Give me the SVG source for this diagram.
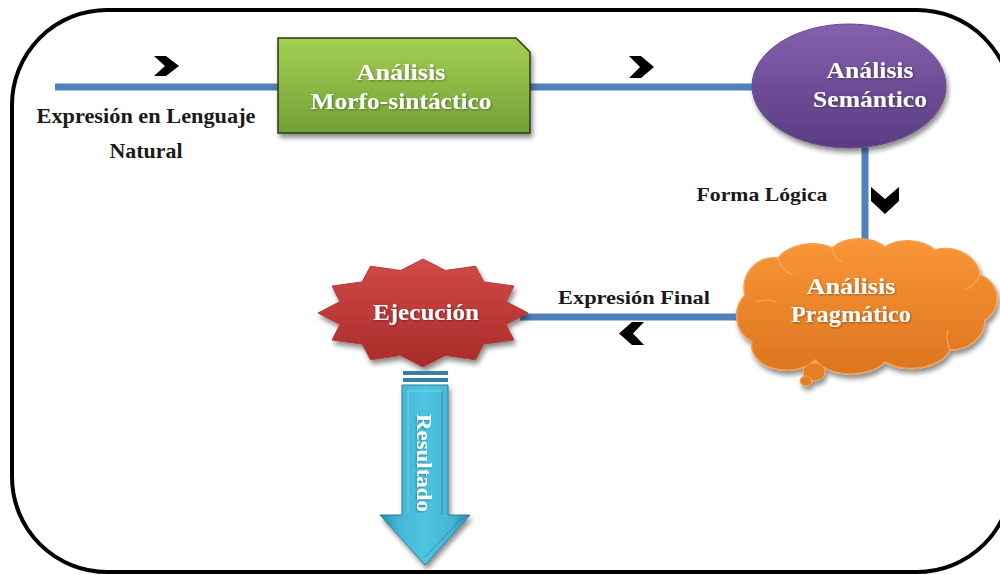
<svg xmlns="http://www.w3.org/2000/svg" width="1000" height="575" viewBox="0 0 1000 575">
  <style>
    .lbl { font-family: "Liberation Serif", "DejaVu Serif", serif; font-weight: bold; fill: #1a1a1a; text-anchor: middle; }
    .node-txt { font-family: "Liberation Serif", "DejaVu Serif", serif; font-weight: bold; fill: #ffffff; text-anchor: middle; }
    .link { stroke: #4f81bd; stroke-width: 7; fill: none; }
    .chev { fill: #000000; }
  </style>
  <defs>
    <filter id="shadow" x="-20%" y="-20%" width="140%" height="150%">
      <feDropShadow dx="2" dy="4" stdDeviation="2.5" flood-color="#000" flood-opacity="0.45"/>
    </filter>
    <filter id="txtShadow" x="-10%" y="-20%" width="120%" height="150%">
      <feDropShadow dx="1" dy="1" stdDeviation="0.8" flood-color="#000" flood-opacity="0.35"/>
    </filter>
    <linearGradient id="gGreen" x1="0" y1="0" x2="0" y2="1">
      <stop offset="0" stop-color="#a4cf52"/>
      <stop offset="1" stop-color="#73a036"/>
    </linearGradient>
    <linearGradient id="gPurple" x1="0" y1="0" x2="0" y2="1">
      <stop offset="0" stop-color="#8460ad"/>
      <stop offset="1" stop-color="#5a3c82"/>
    </linearGradient>
    <linearGradient id="gOrange" x1="0" y1="0" x2="0" y2="1">
      <stop offset="0" stop-color="#fa9636"/>
      <stop offset="1" stop-color="#dd7420"/>
    </linearGradient>
    <linearGradient id="gRed" x1="0" y1="0" x2="0" y2="1">
      <stop offset="0" stop-color="#d24a47"/>
      <stop offset="1" stop-color="#a82b29"/>
    </linearGradient>
    <linearGradient id="gTeal" x1="0" y1="0" x2="1" y2="0">
      <stop offset="0" stop-color="#2a8aa6"/>
      <stop offset="0.2" stop-color="#45b5d6"/>
      <stop offset="0.5" stop-color="#4fc4e2"/>
      <stop offset="0.8" stop-color="#45b5d6"/>
      <stop offset="1" stop-color="#2a8aa6"/>
    </linearGradient>
  </defs>

  <!-- outer frame -->
  <rect x="12" y="10" width="1000" height="562" rx="95" ry="95" fill="#ffffff" stroke="#000000" stroke-width="4"/>

  <!-- connectors -->
  <g id="connectors">
    <line class="link" x1="55" y1="87" x2="280" y2="87"/>
    <line class="link" x1="530" y1="87" x2="760" y2="87"/>
    <line class="link" x1="865" y1="140" x2="865" y2="252"/>
    <line class="link" x1="520" y1="317" x2="745" y2="317"/>
    <polygon class="chev" points="154,56 166,56 179,66 166,76 154,76 165,66"/>
    <polygon class="chev" points="629,56 641,56 654,67 641,78 629,78 640,67"/>
    <polygon class="chev" points="871,187 885,199 899,187 899,201 885,214 871,201"/>
    <polygon class="chev" points="644,322 632,322 619,333.5 632,345 644,345 633,333.5"/>
  </g>

  <!-- edge labels -->
  <g id="labels">
    <text class="lbl" x="146" y="123" font-size="20" textLength="219" lengthAdjust="spacingAndGlyphs">Expresión en Lenguaje</text>
    <text class="lbl" x="146" y="158" font-size="20" textLength="73" lengthAdjust="spacingAndGlyphs">Natural</text>
    <text class="lbl" x="762" y="201" font-size="19" textLength="131" lengthAdjust="spacingAndGlyphs">Forma Lógica</text>
    <text class="lbl" x="634" y="304" font-size="19" textLength="152" lengthAdjust="spacingAndGlyphs">Expresión Final</text>
  </g>

  <!-- Análisis Morfo-sintáctico -->
  <g id="morfo">
    <path d="M278,38 H516 L530,52 V133 H278 Z" fill="url(#gGreen)" stroke="#2c3a18" stroke-width="1.5" filter="url(#shadow)"/>
    <text class="node-txt" x="401" y="80" font-size="23" textLength="89" lengthAdjust="spacingAndGlyphs" filter="url(#txtShadow)">Análisis</text>
    <text class="node-txt" x="401" y="109" font-size="23" textLength="181" lengthAdjust="spacingAndGlyphs" filter="url(#txtShadow)">Morfo-sintáctico</text>
  </g>

  <!-- Análisis Semántico -->
  <g id="semantico">
    <ellipse cx="849" cy="86" rx="97" ry="62" fill="url(#gPurple)" stroke="#6a4a92" stroke-width="1" filter="url(#shadow)"/>
    <text class="node-txt" x="870" y="78" font-size="23" textLength="87" lengthAdjust="spacingAndGlyphs" filter="url(#txtShadow)">Análisis</text>
    <text class="node-txt" x="870" y="107" font-size="23" textLength="114" lengthAdjust="spacingAndGlyphs" filter="url(#txtShadow)">Semántico</text>
  </g>

  <!-- Análisis Pragmático -->
  <g id="pragmatico">
    <g filter="url(#shadow)">
      <path d="M752,342 A30,30 0 0 1 745,295 A30,30 0 0 1 778,258 A40,30 0 0 1 832,248 A35,25 0 0 1 885,247 A35,25 0 0 1 935,250 A35,30 0 0 1 980,275 A25,25 0 0 1 985,320 A35,30 0 0 1 950,350 A40,25 0 0 1 885,362 A40,25 0 0 1 815,360 A35,25 0 0 1 752,342 Z" fill="url(#gOrange)" stroke="#f2a052" stroke-width="1.5"/>
      <ellipse cx="814" cy="372" rx="11" ry="9" fill="#e57e26" stroke="#f2a052" stroke-width="1"/>
      <ellipse cx="806" cy="381" rx="6" ry="5" fill="#e57e26" stroke="#f2a052" stroke-width="1"/>
    </g>
    <g fill="none" stroke="#fbb06a" stroke-width="1.2" opacity="0.8">
      <path d="M756,302 Q766,298 776,302"/>
      <path d="M778,258 Q781,270 793,275"/>
      <path d="M832,248 Q834,258 842,262"/>
      <path d="M950,350 Q945,338 948,330"/>
      <path d="M980,275 Q975,285 965,290"/>
    </g>
    <text class="node-txt" x="851" y="294" font-size="23" textLength="89" lengthAdjust="spacingAndGlyphs" filter="url(#txtShadow)">Análisis</text>
    <text class="node-txt" x="851" y="322" font-size="23" textLength="120" lengthAdjust="spacingAndGlyphs" filter="url(#txtShadow)">Pragmático</text>
  </g>

  <!-- Ejecución -->
  <g id="ejecucion">
    <polygon points="528,313 506.1,301.6 513.9,286 483.8,281.9 475.5,266.2 445.3,270.5 423,259 400.7,270.5 370.5,266.2 362.2,281.9 332.1,286 339.9,301.6 318,313 339.9,324.4 332.1,340 362.2,344.1 370.5,359.8 400.7,355.5 423,367 445.3,355.5 475.5,359.8 483.8,344.1 513.9,340 506.1,324.4" fill="url(#gRed)" stroke="#b53a37" stroke-width="1" filter="url(#shadow)"/>
    <text class="node-txt" x="426" y="320" font-size="23" textLength="106" lengthAdjust="spacingAndGlyphs" filter="url(#txtShadow)">Ejecución</text>
  </g>

  <!-- Resultado arrow -->
  <g id="resultado">
    <rect x="403" y="371" width="45" height="4" fill="#31849b"/>
    <rect x="403" y="378" width="45" height="4" fill="#31849b"/>
    <polygon points="402,385 448,385 448,515 470,515 425,565 380,515 402,515" fill="url(#gTeal)" stroke="#2a7f99" stroke-width="1" filter="url(#shadow)"/>
    <g fill="none" stroke="#9adcf0" stroke-width="1" opacity="0.7">
      <polyline points="408,391 442,391"/>
      <polyline points="408,391 408,512"/>
    </g>
    <g fill="none" stroke="#1f6f87" stroke-width="1" opacity="0.6">
      <polyline points="442,391 442,515"/>
      <polyline points="425,557 462,518"/>
    </g>
    <text class="node-txt" transform="translate(417,463) rotate(90)" font-size="21" textLength="98" lengthAdjust="spacingAndGlyphs" filter="url(#txtShadow)">Resultado</text>
  </g>
</svg>
